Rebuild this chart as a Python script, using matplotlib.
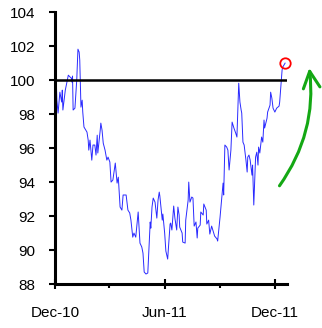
import matplotlib
matplotlib.use("Agg")
import matplotlib.pyplot as plt
import matplotlib.dates as mdates
from matplotlib.patches import FancyArrowPatch
import pandas as pd

# days after 1 Dec 2010 and index level
days = [2, 3, 5, 8, 11, 12, 13, 17, 22, 25, 27, 28, 29, 30, 33, 36, 38, 40, 41, 43,
        45, 46, 48, 51, 53, 55, 56, 58, 61, 63, 66, 68, 70, 71, 75, 76, 78, 80, 83, 86,
        88, 91, 93, 96, 100, 103, 105, 106, 108, 111, 113, 118, 121, 124, 126, 129, 131,
        134, 138, 141, 144, 146, 148, 151, 154, 158, 159, 161, 163, 166, 169, 171, 173,
        174, 178, 179, 182, 184, 187, 191, 192, 194, 197, 199, 202, 204, 206, 207, 211,
        212, 216, 217, 221, 222, 224, 227, 229, 231, 234, 236, 237, 241, 242, 246, 247,
        251, 252, 255, 257, 260, 262, 265, 269, 270, 274, 277, 279, 280, 282, 285, 287,
        289, 292, 294, 297, 300, 302, 304, 305, 307, 309, 310, 312, 314, 317, 319, 320,
        322, 324, 327, 328, 330, 333, 335, 337, 338, 340, 343, 345, 347, 348, 352, 353,
        357, 358, 360, 362, 365, 368, 372, 373, 377, 378, 382]
level = [100.0, 98.82, 98.06, 99.29, 98.71, 99.41, 98.24, 99.41, 100.29, 100.18, 100.12,
         99.88, 100.24, 98.24, 98.35, 100.0, 101.82, 101.65, 101.18, 98.41, 98.82, 98.12,
         97.24, 97.06, 96.94, 96.47, 95.88, 96.47, 95.29, 96.18, 96.18, 95.59, 96.76,
         95.71, 97.06, 97.47, 97.06, 96.29, 95.88, 95.29, 95.47, 95.18, 94.0, 94.12,
         95.12, 93.94, 94.29, 93.71, 92.53, 92.35, 93.24, 93.24, 92.35, 92.18, 91.76,
         90.76, 91.0, 90.76, 92.24, 90.41, 90.18, 89.82, 88.71, 88.59, 88.65, 91.65,
         91.29, 92.53, 93.06, 92.82, 91.88, 92.94, 93.41, 93.18, 91.76, 92.12, 91.0,
         89.94, 89.47, 91.53, 91.59, 91.18, 92.59, 91.88, 91.18, 92.53, 92.06, 91.35,
         91.0, 90.47, 90.41, 91.76, 92.94, 94.0, 92.82, 93.12, 93.06, 91.41, 91.65,
         90.71, 91.29, 91.47, 92.24, 92.06, 92.71, 92.35, 91.53, 91.76, 90.94, 91.41,
         91.18, 90.82, 90.65, 90.53, 91.94, 93.12, 93.94, 93.24, 96.18, 96.06, 95.88,
         94.71, 95.88, 97.53, 97.18, 96.88, 96.65, 98.82, 99.82, 98.71, 98.24, 98.06,
         96.35, 96.18, 95.29, 94.59, 95.47, 95.59, 95.29, 94.41, 95.0, 92.65, 95.47,
         95.76, 95.0, 96.06, 95.71, 96.65, 96.35, 97.65, 97.18, 97.76, 98.12, 98.53,
         99.29, 98.94, 98.35, 98.12, 98.35, 98.47, 98.71, 100.59, 100.76, 101.0]

start = pd.Timestamp("2010-12-01")
dates = start + pd.to_timedelta(days, unit="D")

plt.rcParams["font.family"] = ["Liberation Sans", "DejaVu Sans"]

fig = plt.figure(figsize=(3.22, 3.28), dpi=100)
ax = fig.add_axes([0.171, 0.134, 0.72, 0.829])

ax.plot(dates, level, color="#2a2aff", lw=0.7)
ax.axhline(100, color="black", lw=1.8, zorder=3)

# last point highlighted
ax.plot(dates[-1], level[-1], "o", ms=7.5, mfc="none", mec="#ff0000", mew=1.3, clip_on=False, zorder=4)

ax.set_ylim(88, 104)
ax.set_yticks(range(88, 105, 2))
ax.set_xlim(start, start + pd.Timedelta(days=385))

major = pd.to_datetime(["2010-12-01", "2011-06-01", "2011-12-01"])
minor = pd.to_datetime(["2011-03-01", "2011-09-01"])
ax.set_xticks(major)
ax.set_xticks(minor, minor=True)
ax.xaxis.set_major_formatter(mdates.DateFormatter("%b-%y"))

for s in ["top", "right"]:
    ax.spines[s].set_visible(False)
for s in ["left", "bottom"]:
    ax.spines[s].set_linewidth(2.2)

ax.tick_params(axis="y", direction="out", length=4, width=1.5, labelsize=11, pad=10)
ax.tick_params(axis="x", which="major", direction="inout", length=7, width=1.5, labelsize=11, pad=12)
ax.tick_params(axis="x", which="minor", direction="out", length=3, width=1.5)

# green hand-drawn style arrow to the right of the plot
arrow = FancyArrowPatch((0.961, 0.353), (1.095, 0.805), transform=ax.transAxes,
                        connectionstyle="arc3,rad=0.2", arrowstyle="->,head_length=12,head_width=6",
                        color="#14a814", lw=2.2, clip_on=False)
ax.add_patch(arrow)

fig.savefig("out.png", dpi=100)
